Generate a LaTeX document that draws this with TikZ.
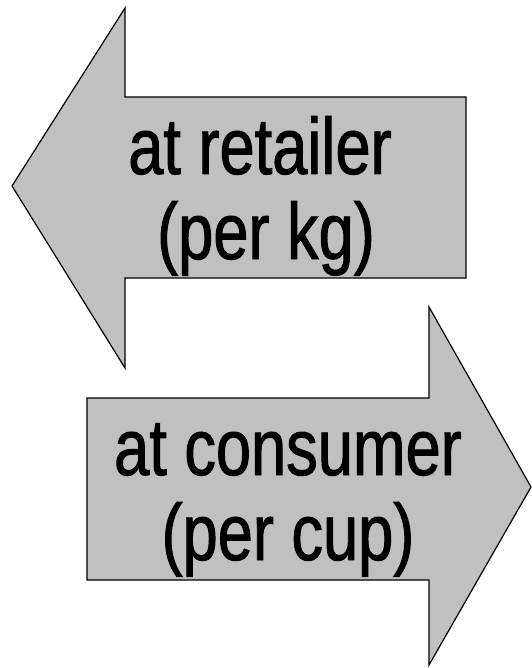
\documentclass[tikz,border=0pt]{standalone}
\usepackage{fontspec}
\setmainfont{Liberation Sans}[FakeStretch=0.79,FakeBold=1.2]
\begin{document}
\begin{tikzpicture}[x=1pt,y=-1pt,
  arrowshape/.style={draw=black,line width=1.2pt,fill=arrowgray,line join=miter},
  lbl/.style={anchor=base,inner sep=0pt,font=\fontsize{80}{85}\selectfont}]
\definecolor{arrowgray}{HTML}{C0C0C0}
\useasboundingbox (0,0) rectangle (531,668);
\draw[arrowshape] (12,186) -- (125,8) -- (125,97) -- (466,97) -- (466,278) -- (125,278) -- (125,368) -- cycle;
\draw[arrowshape] (87,398) -- (429,398) -- (429,307) -- (531,487) -- (429,665) -- (429,580) -- (87,580) -- cycle;
\node[lbl] (r1) at (260,174) {at retailer};
\node[lbl] (r2) at (266,259) {(per kg)};
\node[lbl] (c1) at (288,475) {at consumer};
\node[lbl] (c2) at (288,560) {(per cup)};
\end{tikzpicture}
\end{document}
